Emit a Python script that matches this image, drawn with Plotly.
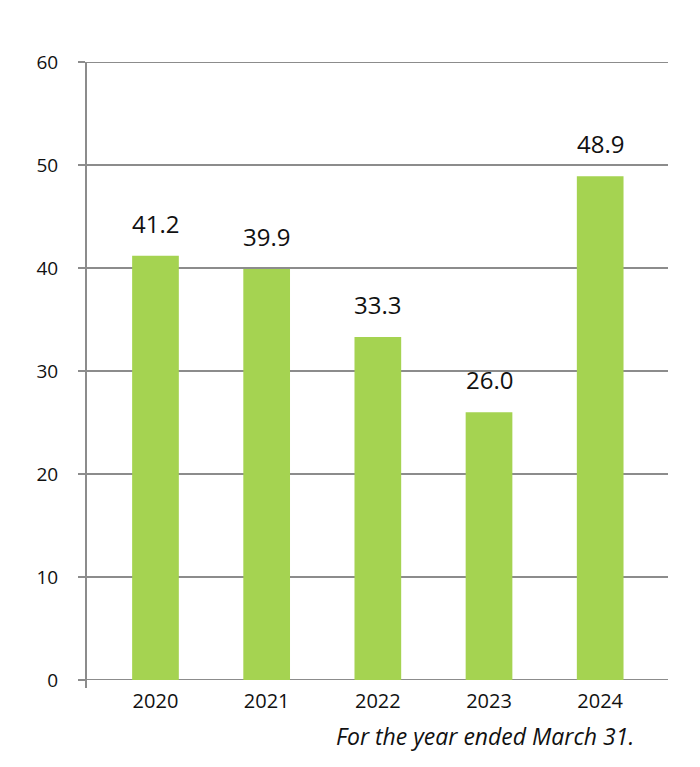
import plotly.graph_objects as go

years = ["2020", "2021", "2022", "2023", "2024"]
values = [41.2, 39.9, 33.3, 26.0, 48.9]
labels = ["41.2", "39.9", "33.3", "26.0", "48.9"]
y_ticks = [0, 10, 20, 30, 40, 50, 60]
y_min, y_max = 0, 60

FONT = "Open Sans"
GRID = "#8c8c8c"
TXT = "#111111"

fig = go.Figure()
fig.add_trace(go.Bar(
    x=list(range(len(years))), y=values,
    marker=dict(color="#a5d351", line=dict(width=0)),
    width=0.42, hoverinfo="skip",
))

for i, (v, t) in enumerate(zip(values, labels)):
    fig.add_annotation(x=i, y=v, text=t, showarrow=False, yanchor="bottom",
                       yshift=14, font=dict(family=FONT, size=24, color=TXT))

fig.add_annotation(xref="paper", yref="paper", x=0.945, y=-0.061,
                   text="<i>For the year ended March 31.</i>",
                   showarrow=False, xanchor="right", yanchor="top",
                   font=dict(family=FONT, size=23, color=TXT))

# edge gridlines (plotly hides gridlines that sit on the plot edges)
for yv in (y_min, y_max):
    fig.add_shape(type="line", xref="paper", yref="y", x0=0, x1=1, y0=yv, y1=yv,
                  line=dict(color=GRID, width=2), layer="below")
# left axis line, extending slightly below zero
fig.add_shape(type="line", xref="paper", yref="paper", x0=0, x1=0, y0=-0.013, y1=1,
              line=dict(color=GRID, width=2))

fig.update_layout(
    width=700, height=767,
    margin=dict(l=78, r=40, t=54, b=95),
    plot_bgcolor="white", paper_bgcolor="white",
    showlegend=False,
    xaxis=dict(range=[-0.625, 4.61], tickmode="array", tickvals=list(range(len(years))),
               ticktext=years, showgrid=False, zeroline=False, showline=False, ticks="",
               ticklabelstandoff=7,
               tickfont=dict(family=FONT, size=20, color=TXT), fixedrange=True),
    yaxis=dict(range=[y_min, y_max], tickmode="array", tickvals=y_ticks, showgrid=True,
               gridcolor=GRID, gridwidth=2, zeroline=False, showline=False,
               ticks="outside", ticklen=7, tickcolor=GRID, tickwidth=2,
               ticklabelstandoff=16,
               tickfont=dict(family=FONT, size=19, color=TXT), fixedrange=True),
)

fig.write_html("out.html")
